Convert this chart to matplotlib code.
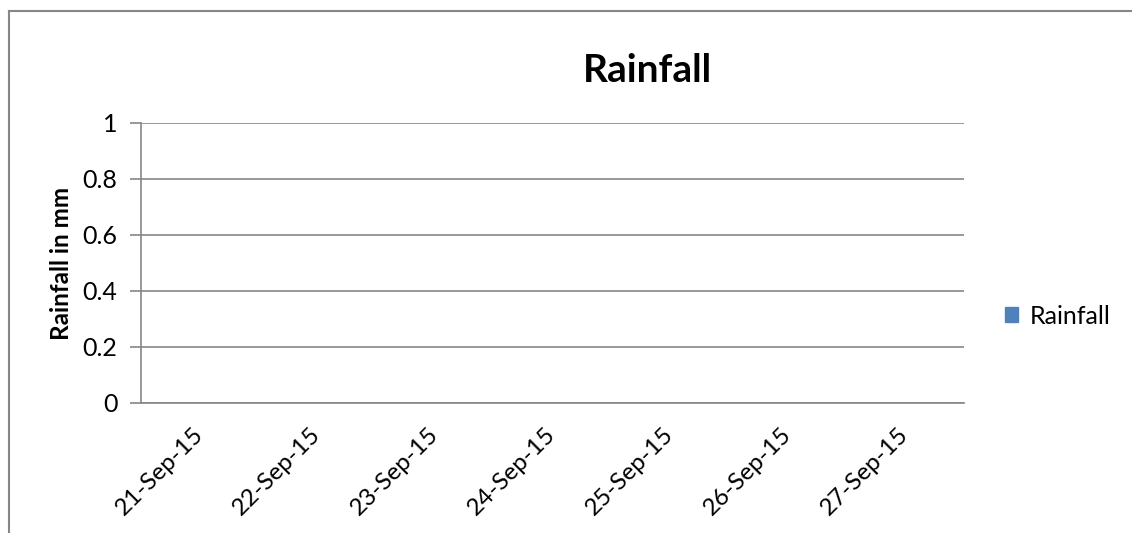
import matplotlib.pyplot as plt
from matplotlib.patches import Rectangle

plt.rcParams['font.family'] = ['Lato', 'DejaVu Sans']

# data (all days show zero rainfall)
dates = ['21-Sep-15', '22-Sep-15', '23-Sep-15', '24-Sep-15',
         '25-Sep-15', '26-Sep-15', '27-Sep-15']
rainfall = [0, 0, 0, 0, 0, 0, 0]
yticks = [0, 0.2, 0.4, 0.6, 0.8, 1]

grey = '#868686'
blue = '#4F81BD'

fig = plt.figure(figsize=(11.32, 5.33), dpi=100)
ax = fig.add_axes([141 / 1132, 1 - 403 / 533, (964 - 141) / 1132, (403 - 123) / 533])

x = list(range(len(dates)))
ax.bar(x, rainfall, width=0.6, color=blue, label='Rainfall')

ax.set_xlim(-0.5, len(dates) - 0.5)
ax.set_ylim(0, 1)
ax.set_yticks(yticks)
ax.set_yticklabels(['0', '0.2', '0.4', '0.6', '0.8', '1'], fontsize=18)
ax.yaxis.grid(True, color=grey, linewidth=1.2)
ax.set_axisbelow(True)
ax.tick_params(axis='y', length=8, color=grey, width=1.2, pad=9)

ax.set_xticks(x)
ax.set_xticklabels(dates, rotation=45, ha='right', va='center',
                   rotation_mode='anchor', fontsize=17.5)
ax.tick_params(axis='x', length=0, pad=20)

for s in ['top', 'right']:
    ax.spines[s].set_visible(False)
for s in ['left', 'bottom']:
    ax.spines[s].set_color(grey)
    ax.spines[s].set_linewidth(1.2)

ax.set_ylabel('Rainfall in mm', fontsize=17.5, fontweight='bold', labelpad=7)

fig.text(647 / 1132, 1 - 70 / 533, 'Rainfall', fontsize=28, fontweight='bold',
         ha='center', va='center')

# legend on the right
fig.legend(handles=[Rectangle((0, 0), 1, 1, color=blue)], labels=['Rainfall'],
           loc='center left', bbox_to_anchor=(987 / 1132, 1 - 316 / 533),
           frameon=False, fontsize=18, handlelength=0.55, handleheight=0.55,
           handletextpad=0.45, borderpad=0.2)

# outer chart border (only left and top visible in the crop)
fig.add_artist(plt.Line2D([9 / 1132, 9 / 1132], [0, 1 - 11 / 533],
                          transform=fig.transFigure, color=grey, linewidth=1.5))
fig.add_artist(plt.Line2D([9 / 1132, 1], [1 - 11 / 533, 1 - 11 / 533],
                          transform=fig.transFigure, color=grey, linewidth=1.5))

fig.savefig('out.png', dpi=100)
